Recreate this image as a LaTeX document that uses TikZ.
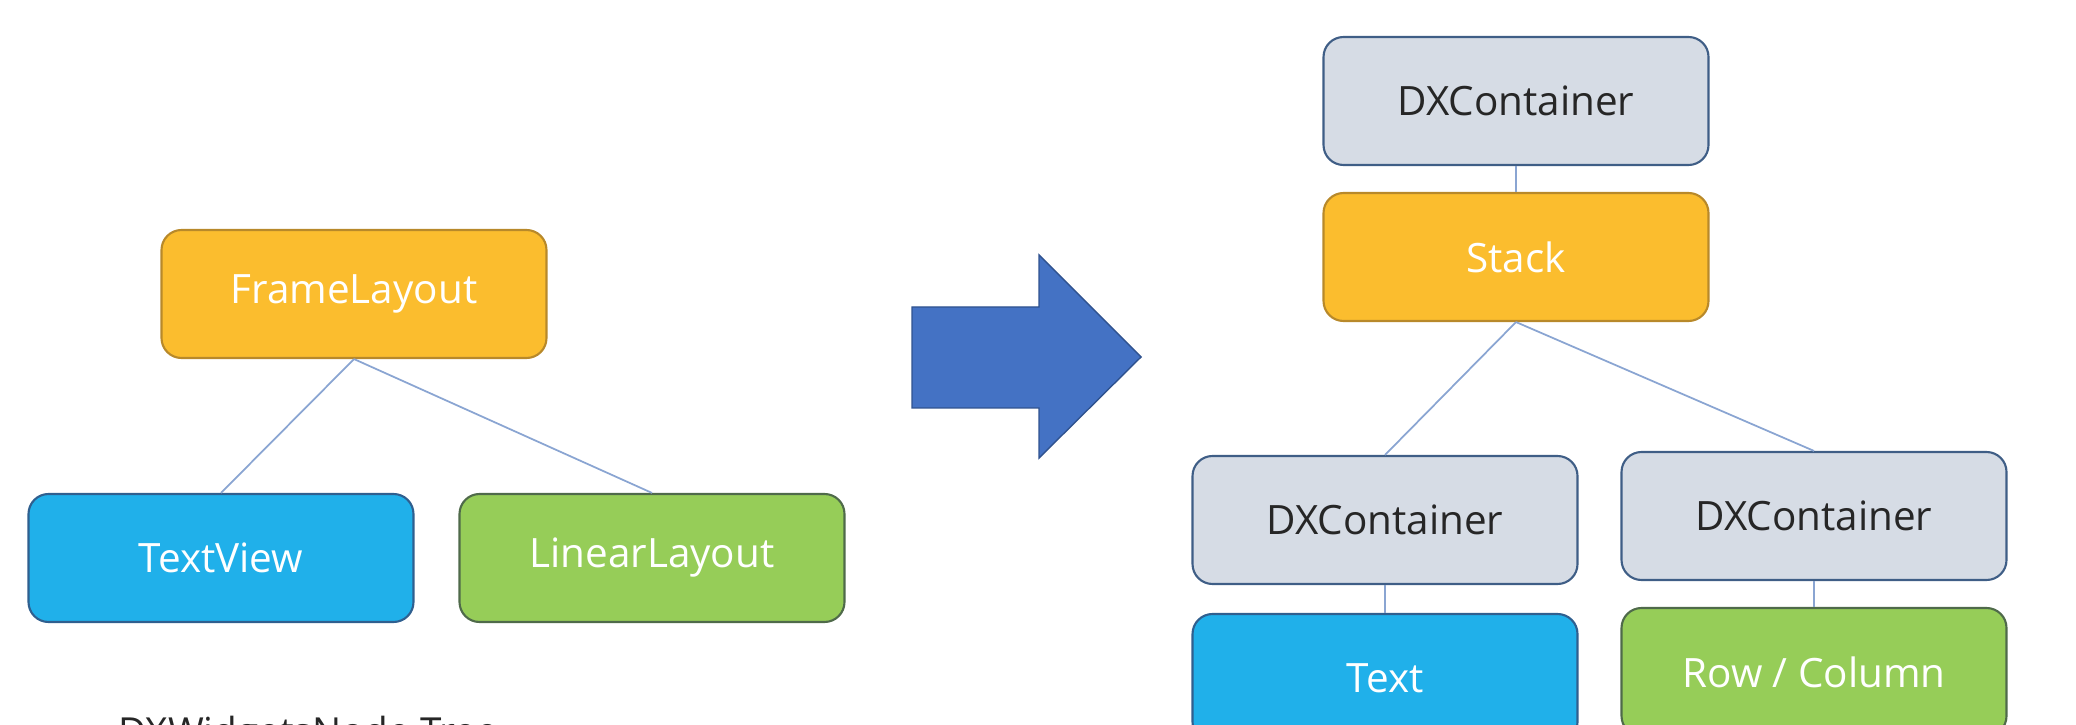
\documentclass[tikz,border=0pt]{standalone}
\usepackage{fontspec}
\setmainfont{Open Sans}
\definecolor{orangeFill}{HTML}{FBBD2E}
\definecolor{orangeLine}{HTML}{B8892A}
\definecolor{blueFill}{HTML}{20B0EA}
\definecolor{blueLine}{HTML}{2F5F8F}
\definecolor{greenFill}{HTML}{96CD58}
\definecolor{greenLine}{HTML}{4F6A4A}
\definecolor{grayFill}{HTML}{D6DCE5}
\definecolor{grayLine}{HTML}{3F5E86}
\definecolor{linkColor}{HTML}{8AA5D2}
\definecolor{arrowFill}{HTML}{4472C4}
\definecolor{arrowLine}{HTML}{2F528F}
\begin{document}
\begin{tikzpicture}[
	tbox/.style={rounded corners=0.2cm, line width=0.6pt,
		minimum width=3.85cm, minimum height=1.28cm,
		font=\fontsize{11.5}{14}\selectfont},
	orangebox/.style={tbox, fill=orangeFill, draw=orangeLine, text=white},
	bluebox/.style={tbox, fill=blueFill, draw=blueLine, text=white},
	greenbox/.style={tbox, fill=greenFill, draw=greenLine, text=white},
	graybox/.style={tbox, fill=grayFill, draw=grayLine, text=black!85},
	link/.style={draw=linkColor, line width=0.5pt}]
	\useasboundingbox (0,0) rectangle (20.76,-7.25);
	% left tree
	\node[orangebox] (frame) at (3.54,-2.94) {FrameLayout};
	\node[bluebox] (tview) at (2.21,-5.58) {TextView};
	\node[greenbox] (linear) at (6.52,-5.58) {LinearLayout};
	\node[anchor=base west, font=\fontsize{11}{14}\selectfont, text=black!85]
		(caption) at (1.06,-7.45) {DXWidgetsNode Tree};
	% arrow
	\draw[fill=arrowFill, draw=arrowLine, line width=0.4pt]
		(9.12,-3.07) -- (10.39,-3.07) -- (10.39,-2.55) -- (11.41,-3.57)
		-- (10.39,-4.58) -- (10.39,-4.08) -- (9.12,-4.08) -- cycle;
	% right tree
	\node[graybox] (dxtop) at (15.16,-1.01) {DXContainer};
	\node[orangebox] (stack) at (15.16,-2.57) {Stack};
	\node[graybox] (dxleft) at (13.85,-5.20) {DXContainer};
	\node[graybox] (dxright) at (18.14,-5.16) {DXContainer};
	\node[bluebox] (text) at (13.85,-6.78) {Text};
	\node[greenbox] (rowcol) at (18.14,-6.72) {Row / Column};
	\foreach \a/\b in {frame/tview,frame/linear,dxtop/stack,stack/dxleft,
		stack/dxright,dxleft/text,dxright/rowcol}
		{\draw[link] (\a.south) -- (\b.north);}
\end{tikzpicture}
\end{document}
